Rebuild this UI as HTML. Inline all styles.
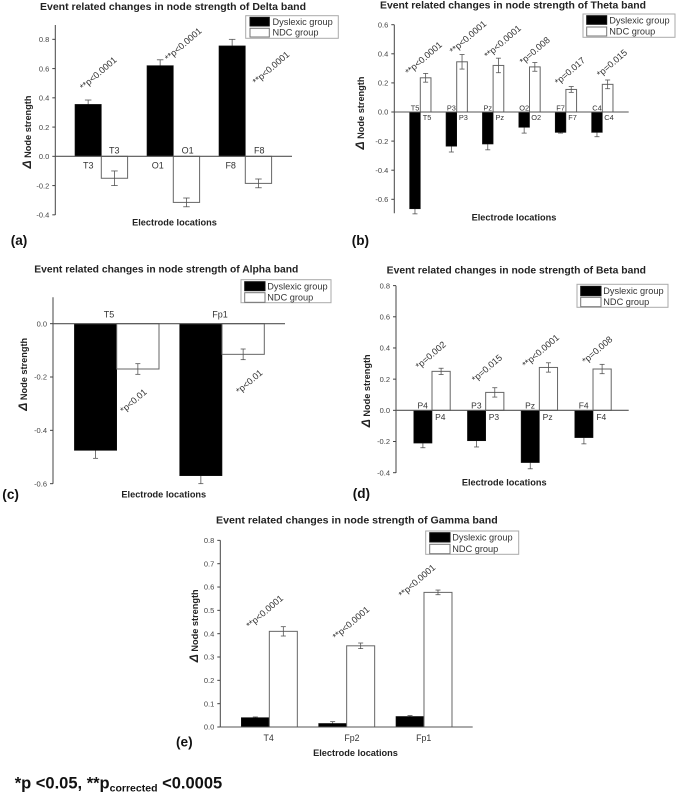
<!DOCTYPE html>
<html lang="en">
<head>
<meta charset="utf-8">
<title>Event related changes in node strength</title>
<style>
html,body{margin:0;padding:0;background:#fff}
svg{display:block;filter:blur(.3px)}
text{font-family:"Liberation Sans",sans-serif;fill:#222}
.title,.xt,.yt,.letter,.foot{font-weight:bold}
.title{font-size:9.8px}
.xt{font-size:9.2px;text-anchor:middle}
.yt{font-size:9.2px;text-anchor:middle}
.delta{font-size:12px;font-style:italic}
.letter{font-size:13.6px;fill:#111}
.foot{font-size:16.5px;fill:#111}
.sub{font-size:10.5px}
.leg{font-size:9.2px;fill:#333}
.legbox{fill:#fff;stroke:#aaa;stroke-width:1}
.sw1{fill:#000;stroke:#111}
.sw2{fill:#fff;stroke:#777}
.tick{font-size:7.5px;fill:#444;text-anchor:end}
.cat{text-anchor:middle;fill:#333}
.p{font-size:9.1px;fill:#333;text-anchor:middle}
</style>
</head>
<body>
<svg xmlns="http://www.w3.org/2000/svg" width="676" height="793" viewBox="0 0 676 793">
<rect width="676" height="793" fill="#fff"/>

<g id="panel-delta">
  <text class="title" x="40" y="10" textLength="266" lengthAdjust="spacingAndGlyphs">Event related changes in node strength of Delta band</text>
  <text class="xt" x="174.5" y="225.7">Electrode locations</text>
  <text class="yt" transform="translate(31,132) rotate(-90)"><tspan class="delta">Δ</tspan> Node strength</text>
  <text class="letter" x="10.7" y="245">(a)</text>
  <g>
    <rect class="legbox" x="245.7" y="15.7" width="92.6" height="22.6"/>
    <rect class="sw1" x="250" y="17.3" width="19.3" height="8.7"/>
    <rect class="sw2" x="250" y="28.3" width="19.3" height="8.7"/>
    <text class="leg" x="272.5" y="25">Dyslexic group</text>
    <text class="leg" x="272.5" y="35.7">NDC group</text>
  </g>
</g>

<g id="panel-theta">
  <text class="title" x="380" y="8.3" textLength="266" lengthAdjust="spacingAndGlyphs">Event related changes in node strength of Theta band</text>
  <text class="xt" x="514" y="220.3">Electrode locations</text>
  <text class="yt" transform="translate(364,113) rotate(-90)"><tspan class="delta">Δ</tspan> Node strength</text>
  <text class="letter" x="351.7" y="245">(b)</text>
  <g>
    <rect class="legbox" x="583" y="14" width="92" height="23.3"/>
    <rect class="sw1" x="586.7" y="15.7" width="20" height="8.6"/>
    <rect class="sw2" x="586.7" y="27" width="20" height="9"/>
    <text class="leg" x="609.3" y="23.3">Dyslexic group</text>
    <text class="leg" x="609.3" y="34.3">NDC group</text>
  </g>
</g>

<g id="panel-alpha">
  <text class="title" x="34.3" y="272.3" textLength="264" lengthAdjust="spacingAndGlyphs">Event related changes in node strength of Alpha band</text>
  <text class="xt" x="163.8" y="497.3">Electrode locations</text>
  <text class="yt" transform="translate(27,374.3) rotate(-90)"><tspan class="delta">Δ</tspan> Node strength</text>
  <text class="letter" x="2.3" y="499">(c)</text>
  <g>
    <rect class="legbox" x="241" y="279.7" width="90" height="23"/>
    <rect class="sw1" x="244.7" y="281.7" width="20.3" height="9"/>
    <rect class="sw2" x="244.7" y="292.7" width="20.3" height="9.6"/>
    <text class="leg" x="267.3" y="289.7">Dyslexic group</text>
    <text class="leg" x="267.3" y="300.7">NDC group</text>
  </g>
</g>

<g id="panel-beta">
  <text class="title" x="386.7" y="273.7" textLength="259.3" lengthAdjust="spacingAndGlyphs">Event related changes in node strength of Beta band</text>
  <text class="xt" x="504.2" y="485.3">Electrode locations</text>
  <text class="yt" transform="translate(370,390.8) rotate(-90)"><tspan class="delta">Δ</tspan> Node strength</text>
  <text class="letter" x="352.7" y="498">(d)</text>
  <g>
    <rect class="legbox" x="577" y="284.3" width="91" height="23"/>
    <rect class="sw1" x="580.7" y="286.3" width="20.3" height="9.4"/>
    <rect class="sw2" x="580.7" y="297.3" width="20.3" height="9.4"/>
    <text class="leg" x="603.3" y="294">Dyslexic group</text>
    <text class="leg" x="603.3" y="305">NDC group</text>
  </g>
</g>

<g id="panel-gamma">
  <text class="title" x="216" y="523.3" textLength="281.7" lengthAdjust="spacingAndGlyphs">Event related changes in node strength of Gamma band</text>
  <text class="xt" x="355.5" y="756">Electrode locations</text>
  <text class="yt" transform="translate(198,625.8) rotate(-90)"><tspan class="delta">Δ</tspan> Node strength</text>
  <text class="letter" x="176" y="746.7">(e)</text>
  <g>
    <rect class="legbox" x="425.7" y="531" width="93" height="23.3"/>
    <rect class="sw1" x="429.7" y="532.7" width="20.3" height="9.3"/>
    <rect class="sw2" x="429.7" y="544.3" width="20.3" height="9.4"/>
    <text class="leg" x="452.3" y="540.7">Dyslexic group</text>
    <text class="leg" x="452.3" y="552">NDC group</text>
  </g>
</g>

<text class="foot" x="14.7" y="788.3">*p &lt;0.05, **p<tspan class="sub" dy="3">corrected</tspan><tspan dy="-3"> &lt;0.0005</tspan></text>

<script>
// Delta band
const deltaCategories = ["T3", "O1", "F8"];
const deltaDyslexic = [0.355, 0.62, 0.755];
const deltaNdc = [-0.15, -0.315, -0.185];
const deltaDyslexicErr = [0.03, 0.04, 0.045];
const deltaNdcErr = [0.05, 0.03, 0.03];
const deltaPLabels = ["**p<0.0001", "**p<0.0001", "**p<0.0001"];
const deltaTicks = [0.8, 0.6, 0.4, 0.2, 0, -0.2, -0.4];

// Theta band
const thetaCategories = ["T5", "P3", "Pz", "O2", "F7", "C4"];
const thetaDyslexic = [-0.665, -0.235, -0.22, -0.105, -0.14, -0.14];
const thetaNdc = [0.235, 0.345, 0.32, 0.31, 0.155, 0.19];
const thetaDyslexicErr = [0.035, 0.04, 0.04, 0.04, 0.005, 0.03];
const thetaNdcErr = [0.03, 0.05, 0.05, 0.03, 0.02, 0.03];
const thetaPLabels = ["**p<0.0001", "**p<0.0001", "**p<0.0001", "*p=0.008", "*p=0.017", "*p=0.015"];
const thetaTicks = [0.6, 0.4, 0.2, 0, -0.2, -0.4, -0.6];

// Alpha band
const alphaCategories = ["T5", "Fp1"];
const alphaDyslexic = [-0.475, -0.57];
const alphaNdc = [-0.17, -0.115];
const alphaDyslexicErr = [0.03, 0.03];
const alphaNdcErr = [0.02, 0.02];
const alphaPLabels = ["*p<0.01", "*p<0.01"];
const alphaTicks = [0, -0.2, -0.4, -0.6];

// Beta band
const betaCategories = ["P4", "P3", "Pz", "F4"];
const betaDyslexic = [-0.21, -0.195, -0.335, -0.175];
const betaNdc = [0.25, 0.115, 0.275, 0.265];
const betaDyslexicErr = [0.03, 0.04, 0.04, 0.04];
const betaNdcErr = [0.02, 0.03, 0.03, 0.03];
const betaPLabels = ["*p=0.002", "*p=0.015", "**p<0.0001", "*p=0.008"];
const betaTicks = [0.8, 0.6, 0.4, 0.2, 0, -0.2, -0.4];

// Gamma band
const gammaCategories = ["T4", "Fp2", "Fp1"];
const gammaDyslexic = [0.04, 0.015, 0.045];
const gammaNdc = [0.41, 0.348, 0.577];
const gammaDyslexicErr = [0.003, 0.008, 0.004];
const gammaNdcErr = [0.02, 0.012, 0.01];
const gammaPLabels = ["**p<0.0001", "**p<0.0001", "**p<0.0001"];
const gammaTicks = [0.8, 0.7, 0.6, 0.5, 0.4, 0.3, 0.2, 0.1, 0];

const NS = "http://www.w3.org/2000/svg";

function make(tag, attrs, parent) {
  const node = document.createElementNS(NS, tag);
  for (const key in attrs) node.setAttribute(key, attrs[key]);
  parent.appendChild(node);
  return node;
}

function drawErr(parent, x, yScale, value, err, capW, name) {
  const group = make("g", { stroke: "#555", "stroke-width": 0.8, fill: "none" }, parent);
  
  
  const top = yScale(value + err);
  const bottom = yScale(value - err);
  make("line", { x1: x, x2: x, y1: top, y2: bottom }, group);
  make("line", { x1: x - capW / 2, x2: x + capW / 2, y1: top, y2: top }, group);
  make("line", { x1: x - capW / 2, x2: x + capW / 2, y1: bottom, y2: bottom }, group);
}

function drawPanel(id, prefix, d, g) {
  const root = document.getElementById(id);
  const yScale = function (v) { return g.y0 - v * g.pxPerUnit; };
  const xScale = function (i) { return g.firstCenter + i * g.step; };

  d.categories.forEach(function (cat, i) {
    const xc = xScale(i);

    drawErr(root, xc - g.barW / 2, yScale, d.dyslexic[i], d.dyslexicErr[i], g.capW, prefix + '-error-dyslexic-' + cat);

    const dysBar = make("rect", {
      x: xc - g.barW,
      y: Math.min(yScale(d.dyslexic[i]), g.y0),
      width: g.barW,
      height: Math.abs(yScale(d.dyslexic[i]) - g.y0),
      fill: "#000",
      stroke: "#111",
      "stroke-width": 0.6
    }, root);
    
    

    const ndcBar = make("rect", {
      x: xc,
      y: Math.min(yScale(d.ndc[i]), g.y0),
      width: g.barW,
      height: Math.abs(yScale(d.ndc[i]) - g.y0),
      fill: "#fff",
      stroke: "#666",
      "stroke-width": 1
    }, root);
    
    

    drawErr(root, xc + g.barW / 2, yScale, d.ndc[i], d.ndcErr[i], g.capW, prefix + '-error-ndc-' + cat);

    g.catRows.forEach(function (row, r) {
      const label = make("text", {
        class: "cat",
        x: xc + row.dx[i % row.dx.length],
        y: g.y0 + row.dy,
        "font-size": g.catFont
      }, root);
      
      
      label.textContent = cat;
    });

    const anchorSeries = g.pOnDyslexic ? d.dyslexic : d.ndc;
    const px = xc + g.pNudge[i].dx;
    const py = yScale(anchorSeries[i]) + g.pNudge[i].dy;
    const pLabel = make("text", {
      class: "p",
      transform: "translate(" + px + "," + py + ") rotate(-41)",
      dy: "3"
    }, root);
    
    
    pLabel.textContent = d.pLabels[i];
  });

  const yAxis = make("line", { x1: g.axisX, x2: g.axisX, y1: g.axisTop, y2: g.axisBottom, stroke: "#444", "stroke-width": 1 }, root);
  
  

  const xAxis = make("line", { x1: g.axisX, x2: g.axisRight, y1: g.y0, y2: g.y0, stroke: "#555", "stroke-width": 1.1 }, root);
  
  

  d.ticks.forEach(function (t) {
    const mark = make("line", { x1: g.axisX - 3, x2: g.axisX, y1: yScale(t), y2: yScale(t), stroke: "#444", "stroke-width": 1 }, root);
    
    
    const tickLabel = make("text", { class: "tick", x: g.axisX - 6, y: yScale(t) + 2.7 }, root);
    
    
    tickLabel.textContent = t.toFixed(1);
  });
}

drawPanel("panel-delta", "delta", {
  categories: deltaCategories, dyslexic: deltaDyslexic, ndc: deltaNdc,
  dyslexicErr: deltaDyslexicErr, ndcErr: deltaNdcErr, pLabels: deltaPLabels, ticks: deltaTicks
}, {
  axisX: 55.3, axisTop: 25, axisBottom: 215, axisRight: 292, y0: 156.33, pxPerUnit: 146.25,
  firstCenter: 101.3, step: 72, barW: 26.3, capW: 6.5, catFont: 9, pOnDyslexic: true,
  catRows: [{ dx: [-13, -15.6, -14.6], dy: 12 }, { dx: [13, 14.3, 14], dy: -2.6 }],
  pNudge: [{ dx: -3, dy: -31 }, { dx: 10, dy: -21.3 }, { dx: 25.7, dy: 22.1 }]
});

drawPanel("panel-theta", "theta", {
  categories: thetaCategories, dyslexic: thetaDyslexic, ndc: thetaNdc,
  dyslexicErr: thetaDyslexicErr, ndcErr: thetaNdcErr, pLabels: thetaPLabels, ticks: thetaTicks
}, {
  axisX: 394.3, axisTop: 24.7, axisBottom: 213.3, axisRight: 628.7, y0: 112, pxPerUnit: 145.5,
  firstCenter: 420.3, step: 36.4, barW: 10.67, capW: 5, catFont: 7.4, pOnDyslexic: false,
  catRows: [{ dx: [-5.3], dy: -1.7 }, { dx: [6.7], dy: 8 }],
  pNudge: [{ dx: 3.4, dy: -19.5 }, { dx: 11.3, dy: -24.5 }, { dx: 9.6, dy: -23.7 }, { dx: 5.2, dy: -16.2 }, { dx: 4.1, dy: -18.4 }, { dx: 9.7, dy: -21.1 }]
});

drawPanel("panel-alpha", "alpha", {
  categories: alphaCategories, dyslexic: alphaDyslexic, ndc: alphaNdc,
  dyslexicErr: alphaDyslexicErr, ndcErr: alphaNdcErr, pLabels: alphaPLabels, ticks: alphaTicks
}, {
  axisX: 53, axisTop: 297.3, axisBottom: 483.7, axisRight: 285, y0: 323.67, pxPerUnit: 266.67,
  firstCenter: 116.7, step: 105.3, barW: 42.3, capW: 5, catFont: 9, pOnDyslexic: false,
  catRows: [{ dx: [-7.7, -2], dy: -6 }],
  pNudge: [{ dx: 16.8, dy: 32 }, { dx: 27.3, dy: 27.4 }]
});

drawPanel("panel-beta", "beta", {
  categories: betaCategories, dyslexic: betaDyslexic, ndc: betaNdc,
  dyslexicErr: betaDyslexicErr, ndcErr: betaNdcErr, pLabels: betaPLabels, ticks: betaTicks
}, {
  axisX: 396, axisTop: 285.7, axisBottom: 473, axisRight: 628.7, y0: 410.33, pxPerUnit: 155.9,
  firstCenter: 432, step: 53.67, barW: 18.2, capW: 5, catFont: 8.5, pOnDyslexic: false,
  catRows: [{ dx: [-9.3], dy: -1.7 }, { dx: [8.3], dy: 9.7 }],
  pNudge: [{ dx: -1.3, dy: -16.1 }, { dx: 1.3, dy: -24.1 }, { dx: 1.4, dy: -16.5 }, { dx: 4.3, dy: -19 }]
});

drawPanel("panel-gamma", "gamma", {
  categories: gammaCategories, dyslexic: gammaDyslexic, ndc: gammaNdc,
  dyslexicErr: gammaDyslexicErr, ndcErr: gammaNdcErr, pLabels: gammaPLabels, ticks: gammaTicks
}, {
  axisX: 220.3, axisTop: 540.3, axisBottom: 727, axisRight: 472.7, y0: 727, pxPerUnit: 233.3,
  firstCenter: 269.33, step: 77.33, barW: 28, capW: 5, catFont: 8.8, pOnDyslexic: false,
  catRows: [{ dx: [-0.7, 5.3, -0.3], dy: 14 }],
  pNudge: [{ dx: -4.6, dy: -19.6 }, { dx: 4.3, dy: -22.8 }, { dx: -7, dy: -11.4 }]
});
</script>
</svg>
</body>
</html>
